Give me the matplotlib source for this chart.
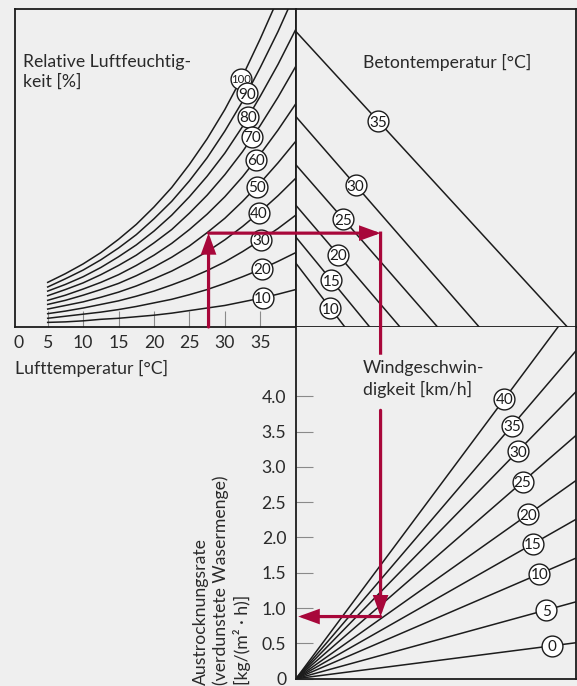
import matplotlib.pyplot as plt
import numpy as np

plt.rcParams['font.family'] = ['Lato', 'DejaVu Sans']

BG = '#efefef'
INK = '#1c1c1c'
TICK = '#8a8a8a'
RED = '#a8073a'

# Lufttemperatur [°C] an den Stützstellen der Feuchte-Kurven
air_temp = [5, 7.5, 10, 12.5, 15, 17.5, 20, 22.5, 25, 27.5, 30, 32.5, 35, 37.5, 40]
humidity = [100, 90, 80, 70, 60, 50, 40, 30, 20, 10]
# Dampfdruck der Luft [kPa] je Kurve
vapour = [
    [0.87, 1.04, 1.23, 1.45, 1.71, 2.00, 2.34, 2.72, 3.17, 3.67, 4.24, 4.89, 5.62, 6.40, 7.25],
    [0.78, 0.94, 1.11, 1.31, 1.54, 1.80, 2.11, 2.45, 2.85, 3.30, 3.82, 4.40, 5.06, 5.76, 6.53],
    [0.70, 0.83, 0.98, 1.16, 1.37, 1.60, 1.87, 2.18, 2.54, 2.94, 3.39, 3.91, 4.50, 5.12, 5.80],
    [0.61, 0.73, 0.86, 1.02, 1.20, 1.40, 1.64, 1.90, 2.22, 2.57, 2.97, 3.42, 3.93, 4.48, 5.08],
    [0.52, 0.62, 0.74, 0.87, 1.02, 1.20, 1.40, 1.63, 1.90, 2.20, 2.54, 2.93, 3.37, 3.84, 4.35],
    [0.44, 0.52, 0.62, 0.73, 0.85, 1.00, 1.17, 1.36, 1.58, 1.84, 2.12, 2.45, 2.81, 3.20, 3.62],
    [0.35, 0.42, 0.49, 0.58, 0.68, 0.80, 0.94, 1.09, 1.27, 1.47, 1.70, 1.96, 2.25, 2.56, 2.90],
    [0.26, 0.31, 0.37, 0.44, 0.51, 0.60, 0.70, 0.82, 0.95, 1.10, 1.27, 1.47, 1.69, 1.92, 2.18],
    [0.17, 0.21, 0.25, 0.29, 0.34, 0.40, 0.47, 0.54, 0.63, 0.73, 0.85, 0.98, 1.12, 1.28, 1.45],
    [0.09, 0.10, 0.12, 0.15, 0.17, 0.20, 0.23, 0.27, 0.32, 0.37, 0.42, 0.49, 0.56, 0.64, 0.73],
]
humidity_label_temp = [32.3, 33.1, 33.3, 33.9, 34.4, 34.5, 34.8, 35.1, 35.2, 35.4]

# Betontemperatur: Dampfdruck am linken Rand, Druckdifferenz am unteren Rand
concrete_temp = [35, 30, 25, 20, 15, 10]
concrete_start = [5.76, 4.10, 3.16, 2.37, 1.75, 1.24]
concrete_end = [6.00, 4.05, 3.13, 2.30, 1.63, 1.08]
concrete_label_x = [1.82, 1.32, 1.05, 0.93, 0.78, 0.76]

# Windgeschwindigkeit: Austrocknungsrate am rechten Rand (Differenz 6.2 kPa)
wind_speed = [40, 35, 30, 25, 20, 15, 10, 5, 0]
wind_rate_edge = [5.33, 4.65, 4.07, 3.45, 2.81, 2.26, 1.71, 1.09, 0.51]
wind_label_x = [4.61, 4.78, 4.91, 5.01, 5.14, 5.24, 5.38, 5.53, 5.65]

temp_ticks = [5, 10, 15, 20, 25, 30, 35]
rate_ticks = [0, 0.5, 1.0, 1.5, 2.0, 2.5, 3.0, 3.5, 4.0]
rate_tick_labels = ['0', '0.5', '1.0', '1.5', '2.0', '2.5', '3.0', '3.5', '4.0']

# Ablesebeispiel
ex_air_temp = 27.7
ex_vapour = 1.83
ex_diff = 1.87
ex_rate = 0.88
ex_gap = (4.61, 3.80)

DIFF_MAX = 6.2
VAP_MAX = 6.2
RATE_MAX = 4.98

W, H = 577, 686
fig = plt.figure(figsize=(W / 100, H / 100), dpi=100, facecolor=BG)


def box(l, t, r, b):
    return [l / W, 1 - b / H, (r - l) / W, (b - t) / H]


ax1 = fig.add_axes(box(14.7, 9, 296, 327))
ax2 = fig.add_axes(box(296, 9, 576.4, 327))
ax3 = fig.add_axes(box(296, 327, 576.4, 678.7))

for ax in (ax1, ax2, ax3):
    ax.set_facecolor(BG)
    for s in ax.spines.values():
        s.set_color(INK)
        s.set_linewidth(1.3)
    ax.tick_params(colors=TICK, labelcolor='#2a2a2a', labelsize=12.7)

ax3.spines['top'].set_visible(False)

# --- oben links: Luftfeuchte ---
ax1.set_xlim(0.344, 40.04)
ax1.set_ylim(0, VAP_MAX)
for rh, curve, lt in zip(humidity, vapour, humidity_label_temp):
    ax1.plot(air_temp, curve, color=INK, lw=1.1, solid_joinstyle='round')
    ly = np.interp(lt, air_temp, curve)
    ax1.plot(lt, ly, 'o', ms=15, mfc='white', mec=INK, mew=1.0, zorder=3)
    ax1.text(lt, ly, str(rh), ha='center', va='center_baseline',
             fontsize=8.2 if rh == 100 else 11, color=INK, zorder=4)

ax1.set_xticks([0.95] + temp_ticks)
ax1.set_xticklabels(['0'] + [str(t) for t in temp_ticks])
ax1.tick_params(axis='x', direction='in', length=11.5, width=0.8, pad=6)
ax1.xaxis.get_major_ticks()[0].tick1line.set_visible(False)
ax1.set_yticks([])
ax1.text(0.0295, 0.86, 'Relative Luftfeuchtig-\nkeit [%]', transform=ax1.transAxes,
         ha='left', va='top', fontsize=12.7, color='#2a2a2a', linespacing=1.3)

# --- oben rechts: Betontemperatur ---
ax2.set_xlim(0, DIFF_MAX)
ax2.set_ylim(0, VAP_MAX)
ax2.set_xticks([])
ax2.set_yticks([])
for ct, y0, x1, lx in zip(concrete_temp, concrete_start, concrete_end, concrete_label_x):
    ax2.plot([0, x1], [y0, 0], color=INK, lw=1.1)
    ly = y0 * (1 - lx / x1)
    ax2.plot(lx, ly, 'o', ms=15, mfc='white', mec=INK, mew=1.0, zorder=3)
    ax2.text(lx, ly, str(ct), ha='center', va='center_baseline',
             fontsize=11, color=INK, zorder=4)
ax2.text(0.238, 0.86, 'Betontemperatur [°C]', transform=ax2.transAxes,
         ha='left', va='top', fontsize=12.7, color='#2a2a2a')

# --- unten rechts: Windgeschwindigkeit ---
ax3.set_xlim(0, DIFF_MAX)
ax3.set_ylim(0, RATE_MAX)
ax3.set_xticks([])
ax3.set_yticks(rate_ticks)
ax3.set_yticklabels(rate_tick_labels)
ax3.tick_params(axis='y', direction='in', length=12, width=0.8, pad=7)
for ws, r, lx in zip(wind_speed, wind_rate_edge, wind_label_x):
    ax3.plot([0, DIFF_MAX], [0, r], color=INK, lw=1.1)
    ly = r * lx / DIFF_MAX
    ax3.plot(lx, ly, 'o', ms=15, mfc='white', mec=INK, mew=1.0, zorder=3)
    ax3.text(lx, ly, str(ws), ha='center', va='center_baseline',
             fontsize=11, color=INK, zorder=4)
ax3.text(0.238, 0.905, 'Windgeschwin-\ndigkeit [km/h]', transform=ax3.transAxes,
         ha='left', va='top', fontsize=12.7, color='#2a2a2a', linespacing=1.3)

fig.text(14.7 / W, 1 - 360 / H, 'Lufttemperatur [°C]', ha='left', va='top',
         fontsize=12.7, color='#2a2a2a')
fig.text(222 / W, 0.001, 'Austrocknungsrate\n(verdunstete Wasermenge)\n[kg/(m² · h)]',
         rotation=90, ha='center', va='bottom', multialignment='left',
         fontsize=12.7, color='#2a2a2a', linespacing=1.25)

# --- rote Ablesepfeile ---
head = dict(arrowstyle='-|>,head_length=0.55,head_width=0.2', mutation_scale=20,
            color=RED, lw=2.3, shrinkA=0, shrinkB=0, joinstyle='miter')
line = dict(arrowstyle='-', color=RED, lw=2.3, shrinkA=0, shrinkB=0, capstyle='projecting')

ax1.annotate('', xy=(ex_air_temp, ex_vapour), xytext=(ex_air_temp, 0),
             arrowprops=head, annotation_clip=False)
ax2.annotate('', xy=(ex_diff, ex_vapour), xycoords=ax2.transData,
             xytext=(ex_air_temp, ex_vapour), textcoords=ax1.transData,
             arrowprops=head, annotation_clip=False)
ax3.annotate('', xy=(ex_diff, ex_gap[0]), xycoords=ax3.transData,
             xytext=(ex_diff, ex_vapour), textcoords=ax2.transData,
             arrowprops=line, annotation_clip=False)
ax3.annotate('', xy=(ex_diff, ex_rate), xytext=(ex_diff, ex_gap[1]),
             arrowprops=head, annotation_clip=False)
ax3.annotate('', xy=(0.05, ex_rate), xytext=(ex_diff, ex_rate),
             arrowprops=head, annotation_clip=False)

fig.savefig('out.png', dpi=100, facecolor=BG)
